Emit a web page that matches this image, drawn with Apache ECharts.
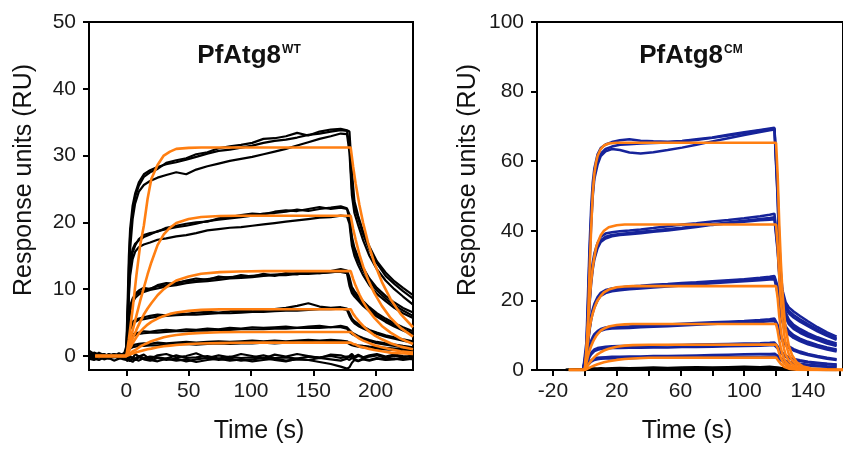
<!DOCTYPE html>
<html>
<head>
<meta charset="utf-8">
<script src="https://cdn.jsdelivr.net/npm/echarts@6/dist/echarts.min.js"></script>
<style>
  html, body { margin: 0; padding: 0; background: #fff; }
  #chart { width: 843px; height: 450px; }
</style>
</head>
<body>
<div id="chart"></div>
<script>
// ---- left panel (PfAtg8 WT) : time grid for the measured traces
const tL = [-30,-26,-22,-18,-14,-10,-6,-2,
  0,1,2,3,5,7,10,14,19,25,32,40,48,56,65,74,83,92,101,110,119,128,137,146,155,164,172,177,
  179,181,183,186,190,195,201,208,215,222,230];

const wt1 = [0.4,0.1,-0.2,0.2,-0.1,0.3,0.0,0.2, 1.5,8,15,19,22.5,24.3,26,27.2,27.8,28.3,28.7,29.0,29.4,29.8,30.3,30.7,30.9,31.2,31.5,31.9,32.2,32.4,32.7,33.1,33.3,33.6,33.8,33.7, 31.5,25,22.3,20.6,18.2,15.9,13.9,12.0,10.8,9.7,8.6];
const wt2 = [0.1,0.5,0.2,-0.1,0.3,0.0,0.4,0.1, 0.8,6,13,18,21.5,23.8,25.5,26.8,27.5,28.0,28.9,29.3,29.6,30.2,30.5,31.1,31.4,31.6,31.9,32.5,32.6,32.9,33.4,33.0,33.6,33.9,34.0,33.8, 33.6,27.5,23.2,21.0,18.6,16.4,14.2,12.5,11.2,10.2,9.1];
const wt3 = [-0.2,0.2,0.0,0.3,-0.2,0.1,-0.1,0.3, 0.5,5,11,16,20.5,22.8,24.6,25.6,26.2,26.7,27.1,27.5,27.2,27.9,28.4,28.8,29.2,29.5,29.8,30.2,30.6,31.0,31.5,32.0,32.5,32.9,33.3,33.2, 30.5,24,21.4,19.6,17.3,15.0,13.0,11.3,10.0,8.9,7.7];
const wt4 = [0.2,-0.1,0.3,0.1,-0.2,0.2,0.1,-0.1, 0.6,6,11,14,16,16.8,17.3,17.8,18.2,18.7,19.0,19.3,19.5,19.8,20.2,20.4,20.6,20.8,21.0,21.3,21.4,21.6,21.9,21.7,22.0,22.2,22.4,22.1, 21.2,17.8,16.2,14.8,13.2,11.6,10.2,9.0,8.0,7.2,6.5];
const wt5 = [-0.1,0.3,0.0,0.2,0.1,-0.2,0.3,0.0, 0.3,5,10,13,15.5,16.5,17.5,18.1,18.4,18.6,19.2,19.5,19.8,20.0,20.1,20.6,20.8,21.1,21.3,21.2,21.6,21.8,21.7,22.0,22.3,22.0,22.2,22.0, 20.5,17.2,15.7,14.3,12.8,11.2,9.8,8.6,7.6,6.8,6.0];
const wt6 = [0.3,0.0,-0.2,0.2,0.0,0.1,-0.2,0.2, 0.2,4,9,12,14.5,15.6,16.3,16.7,17.0,17.4,17.6,17.9,18.1,18.4,18.8,19.0,19.2,19.3,19.5,19.7,19.9,20.1,20.3,20.5,20.7,20.8,21.0,20.9, 19.8,16.5,15.0,13.6,12.1,10.6,9.3,8.2,7.2,6.4,5.7];
const wt7 = [0.1,0.3,-0.1,0.0,0.2,-0.2,0.1,0.2, 0.3,3,6,7.5,8.6,9.1,9.5,9.8,10.1,10.4,10.6,11.0,11.2,11.3,11.5,11.7,11.8,11.9,12.0,12.1,12.2,12.3,12.4,12.5,12.6,12.7,13.0,12.8, 11.8,10.3,9.7,9.0,8.2,7.3,6.4,5.6,4.9,4.3,3.7];
const wt8 = [-0.2,0.1,0.2,-0.1,0.0,0.3,-0.1,0.0, 0.1,2.5,5.5,7,8.3,9.3,9.8,10.2,10.0,10.6,10.9,10.8,11.3,11.6,11.4,11.9,11.7,12.1,11.9,12.3,12.0,12.4,12.2,12.6,12.4,12.5,12.7,12.6, 11.2,9.8,9.3,8.6,7.8,7.0,6.1,5.3,4.6,4.0,3.4];
const wt9 = [0.0,-0.1,0.2,0.1,-0.1,0.0,0.2,-0.2, 0.2,2,5,6.8,8.0,8.7,9.2,9.6,9.9,10.1,10.4,10.6,10.9,11.1,11.2,11.4,11.6,11.7,11.8,12.0,12.1,12.1,12.3,12.3,12.4,12.6,12.6,12.4, 10.5,9.4,8.9,8.3,7.5,6.7,5.9,5.1,4.4,3.8,3.2];
const wt10 = [0.2,0.0,0.3,-0.1,0.1,0.2,-0.2,0.1, 0.2,2,3.6,4.5,5.1,5.4,5.6,5.8,6.0,6.2,6.1,6.4,6.3,6.5,6.6,6.5,6.7,6.8,6.7,6.9,7.0,7.2,7.5,7.9,7.4,7.2,7.3,7.1, 6.4,5.6,5.2,4.8,4.4,3.9,3.5,3.1,2.8,2.5,2.2];
const wt11 = [-0.1,0.2,0.0,0.1,-0.2,0.1,0.1,0.0, 0.0,1.5,3,4,4.7,5.1,5.4,5.5,5.7,5.9,6.0,6.1,6.2,6.2,6.3,6.4,6.4,6.5,6.6,6.6,6.7,6.8,6.8,6.9,7.0,7.0,7.1,6.9, 6.0,5.3,4.9,4.5,4.1,3.7,3.3,2.9,2.6,2.3,2.0];
const wt12 = [0.1,-0.2,0.1,0.2,0.0,-0.1,0.2,0.1, 0.1,1.2,2.2,2.8,3.2,3.4,3.5,3.7,3.6,3.8,3.9,3.8,4.0,3.9,4.1,4.0,4.2,4.1,4.3,4.2,4.3,4.4,4.2,4.4,4.5,4.3,4.5,4.3, 3.9,3.5,3.3,3.0,2.7,2.4,2.1,1.9,1.7,1.5,1.3];
const wt13 = [0.0,0.1,-0.1,0.0,0.2,0.1,-0.1,0.0, 0.0,1,1.9,2.5,2.9,3.1,3.3,3.4,3.5,3.5,3.6,3.7,3.7,3.8,3.8,3.9,3.9,4.0,4.0,4.0,4.1,4.1,4.2,4.2,4.2,4.3,4.3,4.1, 3.6,3.3,3.1,2.8,2.5,2.2,1.9,1.7,1.5,1.3,1.2];
const wt14 = [0.2,0.0,-0.1,0.1,0.0,0.2,0.0,-0.1, 0.0,0.6,1.1,1.4,1.6,1.7,1.8,1.9,1.8,2.0,1.9,2.0,2.1,2.0,2.1,2.2,2.1,2.2,2.3,2.2,2.3,2.2,2.3,2.4,2.3,2.4,2.3,2.2, 2.0,1.8,1.7,1.6,1.5,1.4,1.3,1.2,1.1,1.0,0.9];
const wt15 = [-0.1,0.1,0.0,-0.2,0.1,0.0,0.1,0.0, 0.0,0.4,0.8,1.1,1.3,1.4,1.5,1.5,1.6,1.6,1.7,1.7,1.8,1.7,1.8,1.9,1.8,1.9,1.9,2.0,1.9,2.0,2.0,2.1,2.0,2.1,2.1,2.0, 1.8,1.6,1.5,1.4,1.3,1.2,1.1,1.0,0.9,0.8,0.7];
const wt16 = [0.3,-0.2,0.5,0.1,-0.3,0.2,0.0,0.4, 0.1,-0.3,0.2,0.0,-0.4,0.3,-0.1,0.2,-0.5,0.1,0.3,-0.2,0.0,0.4,-0.3,0.1,-0.2,0.3,0.0,-0.4,0.2,-0.1,0.3,0.0,-0.3,0.2,0.1,-0.2, 0.0,0.3,-0.1,0.2,-0.2,0.1,0.3,-0.1,0.2,0.0,-0.2];
const wt17 = [-0.4,-0.6,-0.2,-0.5,-0.3,-0.7,-0.4,-0.2, -0.5,-0.8,-0.4,-0.6,-0.9,-0.5,-0.7,-0.3,-0.6,-0.8,-0.4,-0.7,-0.5,-0.9,-0.6,-0.4,-0.7,-0.5,-0.8,-0.6,-0.4,-0.7,-0.5,-0.6,-0.9,-1.2,-1.6,-1.9, -1.7,-1.0,-0.6,-0.8,-0.5,-0.7,-0.4,-0.6,-0.5,-0.3,-0.5];
const wt18 = [0.8,0.3,0.0,-0.3,0.1,-0.1,0.2,-0.2, -0.2,0.0,-0.3,-0.1,-0.2,-0.4,0.0,-0.3,-0.1,-0.2,-0.4,0.1,-0.3,-0.2,0.0,-0.4,-0.1,-0.3,-0.2,0.1,-0.3,-0.2,-0.4,-0.1,-0.2,0.0,-0.3,-0.1, -0.2,0.1,-0.3,0.0,-0.2,-0.1,0.1,-0.3,0.0,-0.2,0.1];
const wt19 = [-0.1,-0.4,-0.6,-0.2,-0.4,-0.1,-0.3,-0.5, -0.6,-0.3,-0.5,-0.8,-0.4,-0.6,-0.2,-0.5,-0.7,-0.3,-0.6,-0.4,-0.8,-0.5,-0.3,-0.6,-0.4,-0.7,-0.5,-0.3,-0.6,-0.8,-0.4,-0.6,-0.3,-0.5,-0.7,-0.4, -0.6,-0.3,-0.5,-0.7,-0.4,-0.6,-0.3,-0.5,-0.4,-0.6,-0.4];
const wtTraces = [wt16,wt17,wt18,wt19,wt15,wt14,wt13,wt12,wt11,wt10,wt9,wt8,wt7,wt6,wt5,wt4,wt3,wt2,wt1];

// fitted curves (orange)
const tFitL = [-25,0,2,5,8,11,14,17,20,25,30,35,40,50,60,75,90,110,140,180,182,184,187,190,194,199,205,212,220,230];
const fitL1 = [0,0,2.5,7,12,16.5,19.5,23.5,26.5,28.6,30.0,30.6,31.0,31.15,31.2,31.2,31.2,31.2,31.2,31.2, 28.3,25.8,22.6,19.9,16.9,13.9,11.1,8.5,6.3,4.3];
const fitL2 = [0,0,1.5,3.8,6,8.2,10.2,12.2,14,16.6,18.2,19.2,19.9,20.5,20.8,20.95,21,21,21,21, 19.0,17.4,15.2,13.4,11.4,9.4,7.5,5.7,4.2,2.9];
const fitL3 = [0,0,1.1,2.6,3.9,5.1,6.2,7.1,7.9,9.1,10.0,10.7,11.3,11.9,12.3,12.55,12.65,12.7,12.7,12.7, 11.5,10.5,9.2,8.1,6.9,5.7,4.5,3.5,2.6,1.8];
const fitL4 = [0,0,0.8,1.9,2.8,3.6,4.2,4.7,5.1,5.6,6.0,6.3,6.5,6.75,6.9,6.97,7.0,7.0,7.0,7.0, 6.3,5.8,5.1,4.5,3.8,3.1,2.5,1.9,1.4,1.0];
const fitL5 = [0,0,0.3,0.7,1.0,1.4,1.7,1.95,2.2,2.5,2.8,3.0,3.15,3.35,3.45,3.55,3.6,3.6,3.6,3.6, 3.3,3.0,2.6,2.3,2.0,1.6,1.3,1.0,0.7,0.5];
const fitL6 = [0,0,0.15,0.35,0.55,0.7,0.85,1.0,1.1,1.3,1.45,1.55,1.65,1.8,1.87,1.93,1.97,2.0,2.0,2.0, 1.8,1.7,1.4,1.3,1.1,0.9,0.7,0.5,0.4,0.3];
const fitsL = [fitL1,fitL2,fitL3,fitL4,fitL5,fitL6];

// ---- right panel (PfAtg8 CM)
const tR = [-12,-6,-1,
  0,1,2,3,4,5,6,8,10,13,17,22,28,35,43,52,61,70,80,90,100,110,116,119,
  120,121,122,123,124,126,128,131,135,140,146,152,158];

const cm1 = [null,null,0.2, 0.5,8,22,36,47,54,58,62,63.8,64.8,65.5,66.0,66.3,65.9,65.7,65.6,65.8,66.3,66.8,67.6,68.3,69.0,69.4,69.6, 69.3,52,37,28,23,19.5,18,16.8,15.5,14,12.3,10.8,9.6];
const cm2 = [null,null,0.2, 0.3,6,19,33,44,51.5,56,60,62.2,63.5,64.2,64.7,64.9,65.1,65.2,65.4,65.7,66.1,66.7,67.4,68.1,68.8,69.2,69.4, 69.0,50,35,26.5,22,18.5,17,15.8,14.6,13.2,11.6,10.2,9.0];
const cm3 = [null,null,0.2, 0.2,5,17,31,42,50,55,59,61.5,62.8,63.5,63.2,62.5,62.2,62.6,63.2,63.9,64.7,65.7,66.6,67.5,68.4,68.9,69.1, 68.6,49,34,25.5,21,17.8,16.3,15.1,13.9,12.6,11.1,9.8,8.7];
const cm4 = [null,null,0.2, 0.3,5,13,21,27,31,33.5,36.5,38.3,39.2,39.6,39.9,40.1,40.4,40.8,41.3,41.8,42.2,42.7,43.1,43.6,44.2,44.6,44.9, 44.5,36,29,24,20.5,16.5,14.5,13,11.8,10.6,9.4,8.4,7.6];
const cm5 = [null,null,0.2, 0.2,4.5,12,20,26,30,32.5,35.5,37.3,38.3,38.8,39.1,39.4,39.7,40.0,40.5,40.9,41.4,41.9,42.4,42.9,43.4,43.7,43.9, 43.5,35,28,23,19.5,15.7,13.8,12.4,11.2,10.1,9.0,8.0,7.2];
const cm6 = [null,null,0.2, 0.2,4,11,19,25,29,31.8,35,36.8,37.8,38.4,38.8,39.0,39.3,39.7,40.1,40.6,41.1,41.7,42.2,42.6,43.0,43.2,43.3, 43.0,34,27,22,18.8,15,13.2,11.8,10.7,9.6,8.6,7.6,6.9];
const cm7 = [null,null,0.2, 0.2,4,8.5,12.5,15.5,17.5,19,21,22.2,23,23.4,23.7,24.0,24.2,24.5,24.7,25.0,25.2,25.5,25.8,26.1,26.5,26.8,27.0, 26.7,24,20,17,15,12.6,11.2,10,9,8.1,7.2,6.5,5.9];
const cm8 = [null,null,0.2, 0.1,3.5,7.5,11.5,14.5,16.5,18,20,21.3,22.1,22.6,22.9,23.2,23.4,23.7,24.0,24.3,24.6,24.9,25.2,25.5,25.8,26.0,26.1, 25.8,22,18.5,15.8,13.8,11.6,10.3,9.2,8.3,7.4,6.6,5.9,5.3];
const cm9 = [null,null,0.2, 0.2,3.8,8,12,15,17,18.5,20.5,21.8,22.6,23.0,23.3,23.6,23.8,24.1,24.4,24.7,25.0,25.3,25.6,25.9,26.2,26.4,26.6, 26.3,23,19.2,16.4,14.4,12.1,10.7,9.6,8.6,7.7,6.9,6.2,5.6];
const cm10 = [null,null,0.2, 0.1,2.5,5,7,8.5,9.5,10.3,11.2,11.8,12.2,12.4,12.5,12.6,12.8,12.9,13.1,13.3,13.5,13.7,13.9,14.1,14.4,14.6,14.8, 14.5,13,11.2,9.8,8.8,7.6,6.8,6.0,5.3,4.6,4.0,3.5,3.1];
const cm11 = [null,null,0.2, 0.1,2.2,4.5,6.5,8,9,9.8,10.7,11.3,11.7,11.9,12.0,12.1,12.3,12.4,12.6,12.8,13.0,13.2,13.4,13.6,13.8,14.0,14.1, 13.8,12.3,10.6,9.3,8.3,7.2,6.4,5.6,4.9,4.3,3.7,3.2,2.9];
const cm12 = [null,null,0.2, 0.1,1.5,3,4.2,5,5.5,5.9,6.3,6.5,6.7,6.8,6.9,6.9,7.0,7.0,7.1,7.2,7.3,7.4,7.5,7.6,7.7,7.8,7.9, 7.6,6.8,6.0,5.3,4.8,4.1,3.7,3.2,2.8,2.4,2.1,1.8,1.6];
const cm13 = [null,null,0.2, 0.1,1.3,2.7,3.8,4.5,5.0,5.4,5.8,6.0,6.2,6.3,6.3,6.4,6.4,6.5,6.5,6.6,6.6,6.7,6.8,6.9,7.0,7.1,7.1, 6.9,6.2,5.5,4.9,4.4,3.8,3.4,3.0,2.6,2.2,1.9,1.7,1.5];
const cm14 = [null,null,0.2, 0.1,1,1.8,2.4,2.8,3.1,3.3,3.5,3.6,3.7,3.8,3.8,3.9,3.9,4.0,4.0,4.1,4.2,4.3,4.4,4.5,4.6,4.6,4.7, 4.5,4.1,3.7,3.4,3.1,2.7,2.4,2.1,1.8,1.5,1.3,1.1,1.0];
const cm15 = [null,null,0.2, 0.1,0.8,1.5,2.0,2.4,2.7,2.9,3.1,3.2,3.3,3.3,3.4,3.4,3.5,3.5,3.5,3.6,3.6,3.7,3.7,3.8,3.8,3.9,3.9, 3.7,3.4,3.1,2.8,2.6,2.2,2.0,1.7,1.5,1.3,1.1,0.9,0.8];
const cmTraces = [cm15,cm14,cm13,cm12,cm11,cm10,cm9,cm8,cm7,cm6,cm5,cm4,cm3,cm2,cm1];

// buffer-only injections (black, near zero)
const blank1 = [0.1,0.2,0.2, 0.3,0.2,0.3,0.4,0.3,0.4,0.3,0.4,0.5,0.4,0.5,0.6,0.5,0.6,0.7,0.6,0.7,0.8,0.7,0.8,0.9,0.8,0.9,0.8, 0.8,0.7,0.7,0.6,0.6,0.5,0.5,0.4,0.4,0.3,0.3,0.2,0.2];
const blank2 = [0.0,0.1,0.0, 0.1,0.0,0.1,0.2,0.1,0.2,0.1,0.2,0.2,0.1,0.2,0.3,0.2,0.3,0.3,0.2,0.3,0.4,0.3,0.4,0.4,0.3,0.4,0.4, 0.3,0.3,0.3,0.2,0.2,0.2,0.2,0.1,0.1,0.1,0.1,0.0,0.0];

const tFitR = [-10,0,1,2,3,4,5,6,7,8,10,12,15,20,25,30,40,120, 121,122,123,124,125,126,128,130,133,137,142,152,162];
const fitR1 = [0,0,4,14,29,41,51,56.5,59.5,61.5,63.5,64.5,65.1,65.3,65.3,65.3,65.3,65.3, 56,42,31,22.5,16.5,12,7,4.3,2.2,1,0.4,0.1,0];
const fitR2 = [0,0,6,13,20,25.5,29.5,32.5,35,36.5,38.7,40,41,41.6,41.8,41.8,41.8,41.8, 35.8,26.9,19.9,14.4,10.6,7.7,4.5,2.8,1.4,0.6,0.25,0.06,0];
const fitR3 = [0,0,4,8.5,12,14.5,16.3,17.8,19,20,21.3,22.3,23.1,23.8,24.0,24.1,24.1,24.1, 20.7,15.5,11.4,8.3,6.1,4.4,2.6,1.6,0.8,0.4,0.15,0.04,0];
const fitR4 = [0,0,2,4,5.6,6.9,8.0,8.9,9.7,10.3,11.3,11.9,12.5,12.95,13.1,13.2,13.2,13.2, 11.3,8.5,6.3,4.6,3.3,2.4,1.4,0.9,0.45,0.2,0.08,0.02,0];
const fitR5 = [0,0,0.7,1.4,2.1,2.7,3.2,3.7,4.1,4.5,5.1,5.6,6.1,6.7,7.0,7.15,7.25,7.3, 6.3,4.7,3.5,2.5,1.8,1.3,0.8,0.5,0.25,0.1,0.04,0.01,0];
const fitR6 = [0,0,0.2,0.45,0.7,0.9,1.1,1.3,1.5,1.65,1.95,2.2,2.5,2.9,3.15,3.3,3.5,3.6, 3.1,2.3,1.7,1.2,0.9,0.7,0.4,0.24,0.12,0.05,0.02,0,0];
const fitsR = [fitR1,fitR2,fitR3,fitR4,fitR5,fitR6];

const ticksLX = [0,50,100,150,200];
const ticksLY = [0,10,20,30,40,50];
const ticksRX = [-20,0,20,40,60,80,100,120,140,160];
const labelsRX = [-20,20,60,100,140];
const ticksRY = [0,20,40,60,80,100];

const FONT = '"Liberation Sans", Arial, sans-serif';
const ORANGE = '#ff7f12';
const BLUE = '#16239a';

function line(t, vals, idx, color, width, z) {
  const data = [];
  vals.forEach((v, i) => { if (v !== null) data.push([t[i], v]); });
  return {
    type: 'line', xAxisIndex: idx, yAxisIndex: idx, data: data,
    showSymbol: false, symbol: 'none', silent: true, z: z,
    lineStyle: { color: color, width: width }
  };
}

const series = [];
wtTraces.forEach(v => series.push(line(tL, v, 0, '#000', 2.2, 2)));
fitsL.forEach(v => series.push(line(tFitL, v, 0, ORANGE, 2.6, 4)));
[blank1, blank2].forEach(v => series.push(line(tR, v, 1, '#000', 2.5, 2)));
cmTraces.forEach(v => series.push(line(tR, v, 1, BLUE, 2.5, 3)));
fitsR.forEach(v => series.push(line(tFitR, v, 1, ORANGE, 2.6, 4)));

function xAxis(idx, min, max, ticks, labels) {
  return {
    type: 'value', gridIndex: idx, min: min, max: max,
    axisLine: { onZero: false, lineStyle: { color: '#000', width: 2 } },
    axisTick: { length: 6, lineStyle: { color: '#000', width: 2 }, customValues: ticks },
    axisLabel: { customValues: labels, fontSize: 21, color: '#1a1a1a', fontFamily: FONT, margin: 11 },
    splitLine: { show: false }
  };
}
function yAxis(idx, min, max, ticks) {
  return {
    type: 'value', gridIndex: idx, min: min, max: max,
    axisLine: { show: true, onZero: false, lineStyle: { color: '#000', width: 2 } },
    axisTick: { show: true, length: 6, lineStyle: { color: '#000', width: 2 }, customValues: ticks },
    axisLabel: { customValues: ticks, fontSize: 21, color: '#1a1a1a', fontFamily: FONT, margin: 13 },
    splitLine: { show: false }
  };
}

function title(x, main, sup) {
  return {
    type: 'text', x: x, y: 56, silent: true,
    style: {
      text: '{a|' + main + '}{b|' + sup + '}',
      align: 'center', verticalAlign: 'middle',
      rich: {
        a: { fontSize: 26, fontWeight: 'bold', fontFamily: FONT, fill: '#111', lineHeight: 30 },
        b: { fontSize: 12, fontWeight: 'bold', fontFamily: FONT, fill: '#111', verticalAlign: 'top', lineHeight: 16, padding: [3, 0, 0, 1] }
      }
    }
  };
}
function label(x, y, text, rot) {
  return {
    type: 'text', x: x, y: y, rotation: rot, silent: true,
    style: { text: text, fontSize: 25, fontFamily: FONT, fill: '#111', align: 'center', verticalAlign: 'middle' }
  };
}

const chart = echarts.init(document.getElementById('chart'), null, { renderer: 'canvas' });
chart.setOption({
  animation: false,
  backgroundColor: '#fff',
  grid: [
    { left: 89, top: 22, width: 324, height: 348, show: true, borderColor: '#000', borderWidth: 2 },
    { left: 537, top: 22, width: 323, height: 348, show: true, borderColor: '#000', borderWidth: 2 }
  ],
  xAxis: [
    xAxis(0, -30, 230, ticksLX, ticksLX),
    xAxis(1, -30, 162, ticksRX, labelsRX)
  ],
  yAxis: [
    yAxis(0, -2.1, 50, ticksLY),
    yAxis(1, 0, 100, ticksRY)
  ],
  graphic: [
    title(249, 'PfAtg8', 'WT'),
    title(691, 'PfAtg8', 'CM'),
    label(24, 180, 'Response units (RU)', Math.PI / 2),
    label(468, 180, 'Response units (RU)', Math.PI / 2),
    label(259, 431, 'Time (s)', 0),
    label(687, 431, 'Time (s)', 0)
  ],
  series: series
});
</script>
</body>
</html>
